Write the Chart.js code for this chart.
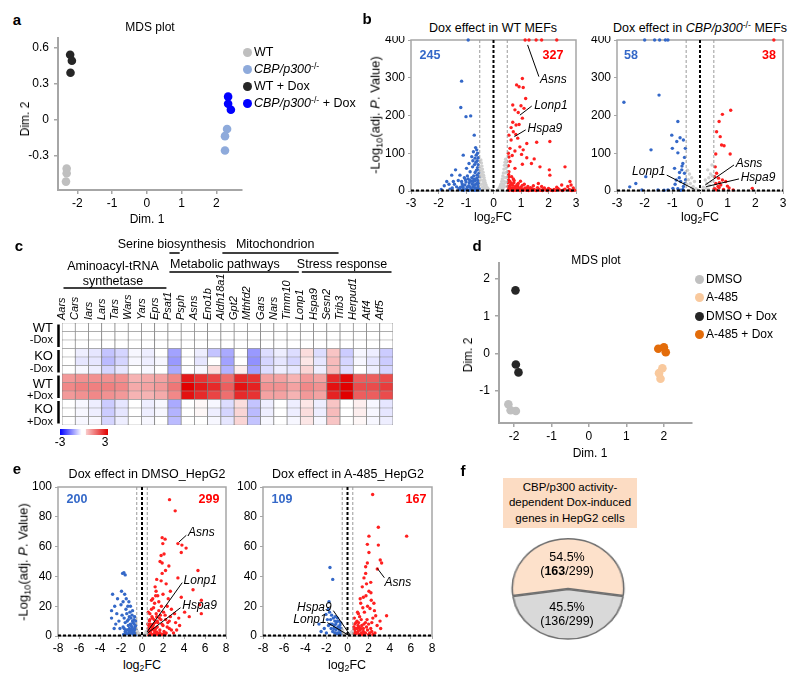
<!DOCTYPE html>
<html>
<head>
<meta charset="utf-8">
<script src="https://cdn.jsdelivr.net/npm/chart.js@4.4.1/dist/chart.umd.min.js"></script>
<style>
body { margin: 0; background: #fff; }
#page { position: relative; width: 800px; height: 682px; overflow: hidden; font-family: 'Liberation Sans', Arial, sans-serif; }
.t { position: absolute; white-space: nowrap; line-height: 1; color: #000; }
sup { font-size: 0.7em; vertical-align: 0.45em; line-height: 0; }
sub { font-size: 0.7em; vertical-align: -0.3em; line-height: 0; }
</style>
</head>
<body>
<div id="page"></div>
<script>
// ---------- data ----------

// a: MDS, MEFs  [Dim1, Dim2]
const mdsWT = [[-2.31, -0.41], [-2.31, -0.45], [-2.33, -0.52]];
const mdsKO = [[2.31, -0.08], [2.25, -0.14], [2.25, -0.26]];
const mdsWTDox = [[-2.21, 0.54], [-2.16, 0.49], [-2.2, 0.39]];
const mdsKODox = [[2.34, 0.19], [2.34, 0.13], [2.42, 0.08]];
const mdsAxTicks = [-2, -1, 0, 1, 2];
const mdsAyTicks = [-0.3, 0, 0.3, 0.6];

// b: volcano, WT MEFs  [log2FC, -log10 adj P]
const wtGrey = [[-0.46,82],[-0.44,74],[-0.42,66],[-0.4,58],[-0.38,50],[-0.36,42],[-0.34,35],[-0.32,28],[-0.3,22],[-0.27,16],[-0.24,10],[-0.2,6],[-0.16,3],[-0.12,1],[-0.45,55],[-0.43,45],[-0.41,38],[-0.39,28],[-0.37,20],[-0.34,14],[-0.3,8],[-0.47,30],[-0.44,18],[-0.4,10],[-0.35,4],[-0.28,2],[-0.48,60],[-0.46,42],
  [0.44,84],[0.42,76],[0.4,68],[0.38,58],[0.36,48],[0.34,40],[0.32,32],[0.3,25],[0.27,18],[0.24,12],[0.2,7],[0.16,3],[0.12,1],[0.45,60],[0.43,48],[0.41,36],[0.39,26],[0.36,18],[0.33,12],[0.3,6],[0.47,35],[0.44,22],[0.4,12],[0.35,5],[0.28,2],[0.48,50],[0.46,70]];
const wtBlue = [[-0.92,400],[-1.16,291],[-1.19,221],[-1.0,197],[-0.83,199],[-0.7,148],[-1.1,95],[-0.65,115],[-0.61,109],[-0.73,104],[-0.58,100],[-0.79,91],[-0.67,87],[-0.55,88],[-0.89,73],[-0.64,76],[-0.76,64],[-0.58,62],[-0.98,60],[-0.85,51],[-0.67,49],[-0.53,47],[-1.38,56],[-1.52,42],[-1.22,42],[-1.06,35],[-1.7,25],[-1.62,18],[-1.79,14],[-1.46,25],[-1.34,11],[-1.16,25],[-1.04,16],[-0.92,32],[-0.79,35],[-0.73,25],[-0.61,34],[-0.55,20],[-0.85,11],[-0.67,9],[-0.53,7],[-0.98,5],[-1.22,4],[-0.79,3],[-0.6,3],[-1.1,8],[-0.7,16],[-0.88,22],[-0.62,55],[-0.56,70],[-0.72,40],[-0.95,40],[-1.28,28],[-1.5,8],[-1.9,4],[-0.57,28],[-0.66,28],[-0.8,26],[-0.9,14],[-1.0,24],[-0.6,42],[-0.75,80],[-0.52,38],[-0.64,18],[-1.12,14],
  [-0.52,3],[-0.56,12],[-0.6,20],[-0.63,6],[-0.68,2],[-0.71,31],[-0.74,10],[-0.77,18],[-0.82,6],[-0.86,28],[-0.9,2],[-0.95,10],[-1.02,30],[-1.08,2],[-1.14,19],[-1.2,10],[-1.26,6],[-1.42,18],[-1.58,5],[-0.54,58],[-0.59,80],[-0.63,95],[-0.69,70]];
const wtRed = [[1.15,400],[1.29,400],[1.55,400],[1.75,400],[2.3,400],[1.05,298],[0.84,281],[0.93,276],[1.08,274],[1.17,245],[0.7,228],[1.0,226],[0.78,215],[1.11,219],[0.9,208],[1.05,193],[0.7,182],[0.82,175],[0.93,176],[0.64,168],[0.72,157],[0.56,148],[0.81,150],[0.64,135],[0.88,140],[1.21,126],[1.57,129],[2.05,131],[0.96,117],[0.6,113],[0.78,106],[1.08,109],[0.54,100],[0.68,94],[1.02,97],[1.21,88],[0.56,90],[1.48,85],[1.38,73],[0.6,78],[1.05,71],[0.54,67],[1.69,64],[0.78,60],[2.03,56],[2.6,64],[0.56,51],[0.66,38],[0.55,44],[2.05,42],[2.78,25],[2.82,16],[1.63,20],[2.48,16],
  [0.55,30],[0.6,25],[0.65,20],[0.7,15],[0.58,10],[0.62,5],[0.68,2],[0.75,28],[0.8,12],[0.85,6],[0.9,20],[0.95,3],[1.0,10],[1.05,15],[1.1,5],[1.15,8],[1.2,2],[1.25,12],[1.3,4],[1.4,6],[1.5,3],[1.6,9],[1.7,2],[1.8,5],[1.9,3],[2.0,7],[2.1,2],[2.2,4],[2.4,3],[2.6,5],[2.8,2],[2.9,8],[0.52,22],[0.57,38],[0.72,32],[0.66,8],[0.88,14],[0.78,4],[1.12,18],[1.35,9],[1.45,14],[0.53,12],[0.6,14],[0.74,22],[0.98,26],[2.3,10],[2.7,12],[1.75,12],
  [0.55,5],[0.57,2],[0.6,8],[0.63,18],[0.7,6],[0.72,1],[0.76,9],[0.82,2],[0.86,17],[0.92,8],[0.97,1],[1.03,5],[1.08,2],[1.18,4],[1.22,7],[1.28,1],[1.33,6],[1.38,2],[1.47,4],[1.55,1],[1.65,5],[1.78,1],[1.85,8],[1.95,1],[2.05,4],[2.15,1],[2.25,2],[2.35,6],[2.5,1],[2.55,3],[2.75,4],[2.85,1],[2.95,2]];

// b: volcano, CBP/p300-/- MEFs
const koGrey = [[0.19,29],[0.28,56],[0.43,69],[0.38,45],[0.32,35],[0.25,20],[0.12,10],[0.4,25],[0.35,15],[0.22,8],[0.45,40],[0.3,5],[-0.2,25],[-0.3,35],[-0.38,45],[-0.45,55],[-0.25,12],[-0.35,20],[-0.15,6],[-0.42,30],[-0.1,3],[-0.3,8],[-0.48,18],[0.05,2],[-0.05,1]];
const koBlue = [[-2.0,400],[-1.64,400],[-1.46,400],[-1.25,400],[-1.16,400],[-2.75,235],[-1.48,254],[-0.8,184],[-1.02,148],[-0.72,141],[-0.84,131],[-0.6,135],[-1.0,113],[-1.77,109],[-0.53,113],[-0.56,89],[-0.8,101],[-0.62,73],[-0.92,60],[-0.65,66],[-0.74,49],[-0.56,47],[-1.96,38],[-0.86,29],[-0.7,25],[-2.32,20],[-2.54,11],[-1.16,3],[-0.98,7],[-0.8,6],[-0.62,4],[-1.52,3],[-2.1,3],[-0.55,20],[-0.9,18],[-0.6,12],[-1.3,2],[-0.7,2],[-0.66,56],[-0.52,30],[-0.75,35]];
const koRed = [[2.67,400],[1.11,214],[0.81,203],[0.69,184],[0.6,157],[0.73,144],[0.78,122],[0.87,120],[0.57,98],[1.09,98],[0.55,64],[0.6,47],[0.67,34],[0.81,29],[0.93,25],[0.57,20],[0.75,16],[1.89,7],[0.99,13],[0.69,9],[0.52,7],[0.6,3],[0.85,4],[1.2,3],[0.7,22],[0.53,38],[0.65,12],[1.05,8]];
const mefXTicks = [-3, -2, -1, 0, 1, 2, 3];
const mefYTicks = [0, 100, 200, 300, 400];

// c: heatmap (log2FC z-scores), rows top to bottom
const genes = ['Aars','Cars','Iars','Lars','Tars','Wars','Yars','Eprs','Psat1','Psph','Asns','Eno1b','Aldh18a1','Gpt2','Mthfd2','Gars','Nars','Timm10','Lonp1','Hspa9','Sesn2','Trib3','Herpud1','Atf4','Atf5'];
const wtNoDox1 = [0,0,0,0,0,0,0,0,0,0,0,0,0,0,0,0,0,0,0,0,0,0,0,0,0];
const wtNoDox2 = [0,0,0,0,0,0,0,0,0,0,0,0,0,0,0,0,0,0,0,0,0,0,0,0,0];
const wtNoDox3 = [0,0,0,0,0,0,0,0,0,0,0,0,0,0,0,0,0,0,0,0,0,0,0,0,0];
const koNoDox1 = [0,-0.2,-0.3,-0.7,-0.5,-0.1,-0.2,0,-1.1,0,-0.2,-0.7,-1.0,0,-1.2,-0.4,-0.2,-0.4,0.4,-0.4,0.7,-0.6,-0.1,-0.2,-0.6];
const koNoDox2 = [0,-0.3,-0.3,-0.8,-0.5,-0.1,-0.2,-0.1,-1.2,0,-0.3,0,-1.1,0,-1.3,-0.5,-0.3,-0.5,0.3,-0.3,0.8,-0.5,-0.1,-0.3,-0.6];
const koNoDox3 = [0,-0.1,-0.2,-0.5,-0.3,0,-0.1,0,-1.0,0,-0.1,0.4,-0.9,0.2,-1.1,-0.4,-0.2,-0.3,0.5,-0.2,0.8,-0.4,0,-0.2,-0.5];
const wtDox1 = [1.2,1.3,1.3,1.3,1.3,0.9,1.0,1.1,1.4,2.7,2.4,2.2,1.7,2.5,2.4,1.1,1.1,0.9,1.2,1.1,2.5,2.9,1.9,1.9,2.1];
const wtDox2 = [1.4,1.5,1.5,1.5,1.4,1.0,1.1,1.2,1.6,3.0,2.7,2.5,1.9,2.8,2.6,1.3,1.3,1.1,1.4,1.3,2.8,3.2,2.1,2.1,2.3];
const wtDox3 = [1.2,1.3,1.4,1.3,1.2,0.9,0.9,1.0,1.4,2.8,2.5,2.2,1.7,2.5,2.4,1.1,1.1,0.9,1.2,1.1,2.6,3.0,1.9,1.9,2.1];
const koDox1 = [0,-0.1,-0.2,-0.6,-0.3,0,-0.2,-0.1,-1.0,0,0.1,-0.1,-0.4,0.4,-0.7,-0.2,0,-0.2,0.3,-0.2,0.7,0,0.2,-0.1,-0.3];
const koDox2 = [0,-0.1,-0.2,-0.6,-0.3,0,-0.2,-0.1,-0.9,0,0.1,-0.2,-0.5,0.5,-0.8,-0.2,0,-0.2,0.4,-0.2,0.8,0,0.2,-0.1,-0.3];
const koDox3 = [0,-0.1,-0.1,-0.5,-0.2,0,-0.1,0,-0.8,0,0,-0.1,-0.3,0.5,-0.7,-0.1,0,-0.1,0.3,-0.1,0.7,0,0.1,-0.1,-0.2];
const heatRows = [wtNoDox1, wtNoDox2, wtNoDox3, koNoDox1, koNoDox2, koNoDox3, wtDox1, wtDox2, wtDox3, koDox1, koDox2, koDox3];

// d: MDS, HepG2
const mdsDMSO = [[-2.15, -1.35], [-2.09, -1.51], [-1.95, -1.53]];
const mdsA485 = [[1.96, -0.39], [1.87, -0.52], [1.91, -0.67]];
const mdsDMSODox = [[-1.96, 1.69], [-1.95, -0.29], [-1.88, -0.5]];
const mdsA485Dox = [[1.85, 0.13], [2.0, 0.17], [2.05, 0.04]];
const mdsDyTicks = [-1, 0, 1, 2];

// e: volcano, DMSO HepG2
const dmsoGrey = [[-0.4,2],[-0.3,1],[-0.2,0.5],[0.2,0.6],[0.3,1.2],[0.45,2],[-0.45,3],[0.4,3],[-0.1,0.3],[0.1,0.3],[-0.35,1.8],[0.35,1.5]];
const dmsoBlue = [[-1.85,42],[-1.6,41],[-1.72,42.5],[-2.8,28],[-2.9,17],[-2.9,12],[-2.65,5],[-2.33,25],[-2.0,21],[-1.8,23],[-1.53,18],[-1.45,15],[-1.21,13],[-1.05,12],[-1.9,14],[-1.7,12],[-1.6,9],[-1.4,10],[-1.3,7],[-1.2,5],[-1.1,8],[-0.95,6],[-0.9,3],[-0.8,4],[-0.7,2],[-0.6,3],[-1.0,2],[-1.5,4],[-1.8,6],[-2.2,10],[-2.4,15],[-1.35,20],[-1.65,28],[-1.95,30],[-0.85,9],[-0.65,6],[-0.55,1],[-1.15,16],[-2.1,5],[-1.25,2],[-0.75,11],[-1.55,2],[-2.5,8],[-0.95,14],[-1.1,3],
  [-0.55,4],[-0.6,7],[-0.65,1.5],[-0.7,5],[-0.75,8],[-0.8,1],[-0.85,3],[-0.9,10],[-1.0,4.5],[-1.05,7],[-1.15,1.5],[-1.2,3],[-1.3,11],[-1.35,4],[-1.45,1.5],[-1.6,3],[-1.7,5],[-1.75,1],[-0.6,10],[-0.7,13],[-0.9,17],[-1.1,20],[-1.25,23],[-1.5,25],[-2.6,20]];
const dmsoRed = [[2.62,91.5],[3.16,84],[1.92,66],[2.2,65],[1.98,62],[3.42,62],[3.8,61],[4.2,59],[3.74,56],[1.82,54],[1.72,50],[1.92,49],[2.56,47],[2.24,44],[5.33,44],[1.92,42],[3.42,39],[1.82,37],[4.86,31],[1.34,30],[5.65,24],[5.5,21],[3.74,26],[5.65,15],[4.06,16],[3.58,7],[1.02,25],[1.5,27],[2.0,28],[1.2,22],[2.4,20],[2.8,18],[3.1,15],[0.9,18],[1.6,17],[2.2,14],[1.0,12],[1.4,13],[1.8,11],[2.6,10],[3.2,9],[0.7,10],[1.1,8],[1.5,9],[2.0,7],[2.4,6],[0.6,5],[0.9,4],[1.3,5],[1.7,4],[2.1,3],[2.8,4],[0.55,2],[0.8,1.5],[1.2,2],[1.6,1.5],[2.3,2],[3.0,2],[1.0,6],[1.9,8],[0.75,15],[1.25,33],[2.3,35],[1.6,23],[2.5,25],[1.4,38],[2.1,55],[3.5,12],[4.5,13],[1.85,20],[0.65,7],[1.15,11],[0.8,8],[1.45,6],[2.6,5],[3.3,4],
  [0.6,1],[0.7,3],[0.8,2.5],[0.9,1.2],[1.0,4.5],[1.1,1],[1.2,3.5],[1.3,1.2],[1.4,2.8],[1.5,1],[1.7,2.2],[1.8,1],[2.0,1.2],[2.2,1],[0.65,4],[0.85,6],[1.05,7],[1.25,9],[1.45,10],[1.65,12],[0.55,8],[0.75,11],[0.95,13],[1.35,15],[1.75,14],[2.05,16],[2.25,11],[2.45,9],[2.7,13],[0.6,16],[0.9,24],[1.1,19],[1.3,27],[2.7,30]];

// e: volcano, A-485 HepG2
const a485Grey = [[-0.4,2],[-0.3,1.5],[-0.2,1],[0.2,1],[0.3,2],[0.45,3],[-0.45,4],[0.4,1],[-0.1,0.5],[0.1,0.4]];
const a485Blue = [[-1.66,46],[-1.4,38],[-1.75,23],[-2.7,8],[-2.04,14.5],[-1.34,12],[-1.03,9.6],[-0.71,7.4],[-1.8,18],[-1.5,14],[-1.2,10],[-0.9,6],[-0.6,3],[-1.6,8],[-2.2,5],[-1.9,11],[-1.1,4],[-0.8,2],[-1.4,3],[-2.5,3],[-1.7,16],[-1.25,7],[-0.95,12],[-0.75,4],[-1.55,5],[-2.0,2],[-1.0,1.5],[-0.55,1.5],
  [-0.6,5],[-0.7,1],[-0.8,6],[-0.9,2],[-1.0,5],[-1.1,8],[-1.2,2],[-1.3,5],[-1.45,8],[-1.6,11],[-1.8,7],[-0.65,9],[-0.85,10],[-1.15,13]];
const a485Red = [[2.38,95],[2.92,73],[5.6,67],[2.03,67],[1.88,61.5],[2.92,61],[2.03,56],[3.23,49],[3.1,51],[1.88,49],[1.72,46.5],[2.82,45],[1.72,42],[1.56,39],[2.03,30],[2.22,29],[1.5,26],[1.25,22],[2.13,18.5],[2.67,13.6],[3.7,13.6],[3.08,10],[3.14,5],[1.03,15],[1.8,35],[2.2,36],[1.4,33],[1.2,25],[2.5,22],[1.9,20],[1.6,16],[2.4,12],[0.9,10],[1.3,11],[1.7,9],[2.0,8],[2.8,7],[0.6,6],[0.8,5],[1.1,6],[1.5,5],[1.9,4],[2.3,3],[0.55,2],[0.75,1.5],[1.0,3],[1.3,2],[1.6,1.5],[2.1,2],[2.6,2],[0.7,8],[1.15,13],[1.45,19],[1.05,9],[1.75,27],[2.55,17],[0.65,12],[0.95,16],[1.35,7],[2.25,24],
  [0.6,1],[0.7,3],[0.85,2],[0.95,5],[1.1,1],[1.2,4],[1.4,1],[1.5,3],[1.7,2],[1.8,6],[2.0,1],[2.2,5],[2.4,1],[0.65,4.5],[0.8,9],[1.0,7],[1.25,5],[1.55,8],[1.85,11],[2.3,9]];
const hepXTicks = [-8, -6, -4, -2, 0, 2, 4, 6, 8];
const hepYTicks = [0, 20, 40, 60, 80, 100];

// f: pie
const pieCounts = [163, 136];
const pieColors = ['#fde1cb', '#d9d9d9'];

// ---------- helpers ----------
const FONT = "'Liberation Sans', Arial, sans-serif";
const GREY = '#a6a6a6';
const BLUE = '#3468c8';
const RED = '#ff2020';
const LIGHT = '#d0d0d0';
Chart.defaults.font.family = FONT;
Chart.defaults.font.size = 12;
Chart.defaults.color = '#000';
Chart.defaults.animation = false;

const page = document.getElementById('page');

function label(html, x, y, css) {
  const d = document.createElement('div');
  d.className = 't';
  d.innerHTML = html;
  d.style.left = x + 'px';
  d.style.top = y + 'px';
  d.style.fontSize = '12px';
  d.style.transform = 'translate(-50%,-50%)';
  d.style.cssText += css || '';
  page.appendChild(d);
  return d;
}
const leftAt = 'transform:translate(0,-50%);';
const rightAt = 'transform:translate(-100%,-50%);';
const rotated = 'transform:translate(-50%,-50%) rotate(-90deg);';

function dot(x, y, color) {
  const d = document.createElement('div');
  d.style.cssText = `position:absolute;left:${x - 4.5}px;top:${y - 4.5}px;width:9px;height:9px;border-radius:50%;background:${color}`;
  page.appendChild(d);
}

// box = canvas [left, top, w, h], area = chart area [x0, y0, x1, y1], all in page px
function makeChart(box, area, config, topAxis) {
  const [left, top, w, h] = box;
  const [x0, y0, x1, y1] = area;
  const cv = document.createElement('canvas');
  cv.width = w; cv.height = h;
  cv.style.cssText = `position:absolute;left:${left}px;top:${top}px;`;
  page.appendChild(cv);
  const o = config.options;
  o.responsive = false;
  o.animation = false;
  o.events = [];
  o.plugins = Object.assign({legend: {display: false}, tooltip: {enabled: false}}, o.plugins || {});
  if (topAxis) {
    o.layout = {padding: {left: x0 - left, top: 0, right: left + w - x1, bottom: top + h - y1}};
    o.scales.x.afterFit = s => { s.height = y0 - top; s.paddingLeft = 0; s.paddingRight = 0; };
  } else {
    o.layout = {padding: {left: 0, top: y0 - top, right: left + w - x1, bottom: 0}};
    o.scales.x.afterFit = s => { s.height = top + h - y1; s.paddingLeft = 0; s.paddingRight = 0; };
    o.scales.y.afterFit = s => { s.width = x0 - left; s.paddingTop = 0; s.paddingBottom = 0; };
  }
  return new Chart(cv, config);
}

function axisLinear(min, max, ticks, o) {
  return {
    type: 'linear', min, max,
    afterBuildTicks: s => { s.ticks = ticks.map(v => ({value: v})); },
    grid: {drawOnChartArea: false, drawTicks: true, tickLength: o.tl, color: GREY, lineWidth: o.gw},
    border: {display: o.border, color: GREY, width: o.bw},
    ticks: {padding: o.pad, color: '#000', font: {size: 12}, maxRotation: 0, autoSkip: false}
  };
}

const framePlugin = {
  id: 'frame',
  beforeDatasetsDraw(chart) {
    const {ctx, chartArea: a} = chart;
    ctx.save();
    ctx.strokeStyle = GREY;
    ctx.lineWidth = 1.5;
    ctx.strokeRect(a.left, a.top, a.right - a.left, a.bottom - a.top);
    ctx.restore();
  }
};

function refsPlugin(cut, yLine) {
  return {
    id: 'refs',
    afterDatasetsDraw(chart) {
      const {ctx, chartArea: a, scales: {x, y}} = chart;
      ctx.save();
      const vline = (v, color, lw) => {
        const px = x.getPixelForValue(v);
        ctx.strokeStyle = color; ctx.lineWidth = lw;
        ctx.beginPath(); ctx.moveTo(px, a.top); ctx.lineTo(px, a.bottom); ctx.stroke();
      };
      ctx.setLineDash([3, 2]);
      vline(-cut, '#9a9a9a', 1);
      vline(cut, '#9a9a9a', 1);
      vline(0, '#000', 2);
      const py = y.getPixelForValue(yLine);
      ctx.beginPath(); ctx.moveTo(a.left, py); ctx.lineTo(a.right, py); ctx.stroke();
      ctx.restore();
    }
  };
}

// [text, lineFromX, lineFromY, lineToX, lineToY, textX, textY, align]
function annotPlugin(items) {
  return {
    id: 'annot',
    afterDatasetsDraw(chart) {
      const {ctx, scales: {x, y}} = chart;
      ctx.save();
      ctx.strokeStyle = '#000'; ctx.fillStyle = '#000'; ctx.lineWidth = 1;
      ctx.font = `italic 12px ${FONT}`;
      ctx.textBaseline = 'middle';
      items.forEach(([t, ax, ay, bx, by, tx, ty, al]) => {
        ctx.beginPath();
        ctx.moveTo(x.getPixelForValue(ax), y.getPixelForValue(ay));
        ctx.lineTo(x.getPixelForValue(bx), y.getPixelForValue(by));
        ctx.stroke();
        ctx.textAlign = al;
        ctx.fillText(t, x.getPixelForValue(tx), y.getPixelForValue(ty));
      });
      ctx.restore();
    }
  };
}

function volcano(box, area, xr, xt, yMax, yt, grey, blue, red, notes) {
  const sets = [[grey, LIGHT], [blue, BLUE], [red, RED]];
  return makeChart(box, area, {
    type: 'scatter',
    data: {datasets: sets.map(([d, c]) => ({data: d, backgroundColor: c, pointRadius: 1.7, borderWidth: 0, clip: false}))},
    options: {
      scales: {
        x: axisLinear(xr[0], xr[1], xt, {tl: 3, gw: 1, border: false, bw: 1.5, pad: 2}),
        y: axisLinear(0, yMax, yt, {tl: 3, gw: 1, border: false, bw: 1.5, pad: 3})
      }
    },
    plugins: [framePlugin, refsPlugin(0.5, yMax * 0.004), annotPlugin(notes)]
  });
}

function mds(box, area, xr, yr, yt, sets) {
  return makeChart(box, area, {
    type: 'scatter',
    data: {datasets: sets.map(([d, c]) => ({data: d, backgroundColor: c, pointRadius: 4.3, borderWidth: 0, clip: false}))},
    options: {
      scales: {
        x: axisLinear(xr[0], xr[1], mdsAxTicks, {tl: 4, gw: 1.5, border: true, bw: 2, pad: 2}),
        y: axisLinear(yr[0], yr[1], yt, {tl: 4, gw: 1.5, border: true, bw: 2, pad: 5})
      }
    }
  });
}

// ---------- a ----------
mds([0, 32, 250, 180], [58, 38, 242, 190], [-2.56, 2.74], [-0.59, 0.68], mdsAyTicks,
  [[mdsWT, '#bfbfbf'], [mdsKO, '#8eaadb'], [mdsWTDox, '#262626'], [mdsKODox, '#0000ff']]);
label('a', 17, 19, 'font-weight:bold;font-size:15px;');
label('MDS plot', 150, 27);
label('Dim. 2', 25, 119, rotated);
label('Dim. 1', 147, 219);
[['WT', '#bfbfbf', 52], ['<i>CBP/p300</i><sup>-/-</sup>', '#8eaadb', 69], ['WT + Dox', '#262626', 86], ['<i>CBP/p300</i><sup>-/-</sup> + Dox', '#0000ff', 103]]
  .forEach(([t, c, y]) => { dot(247, y, c); label(t, 254, y, leftAt + 'font-size:12.5px;'); });

// ---------- b ----------
volcano([380, 36, 205, 175], [411, 40, 576, 191], [-3, 3], mefXTicks, 400, mefYTicks, wtGrey, wtBlue, wtRed, [
  ['Asns', 1.24, 387, 1.65, 303, 1.69, 294, 'left'],
  ['Lonp1', 0.96, 201, 1.39, 225, 1.48, 225, 'left'],
  ['Hspa9', 0.76, 144, 1.17, 162, 1.24, 166, 'left']
]);
volcano([586, 36, 204, 175], [617, 40, 783, 191], [-3, 3], mefXTicks, 400, mefYTicks, koGrey, koBlue, koRed, [
  ['Lonp1', -1.2, 42, -0.2, 4.4, -1.25, 51, 'right'],
  ['Asns', 1.23, 69, 0.19, 16, 1.29, 73, 'left'],
  ['Hspa9', 1.41, 32, 0.22, 11.5, 1.47, 36, 'left']
]);
label('b', 367, 18, 'font-weight:bold;font-size:15px;');
label('Dox effect in WT MEFs', 493, 28, 'font-size:12.5px;');
label('Dox effect in <i>CBP/p300</i><sup>-/-</sup> MEFs', 700, 28, 'font-size:12.5px;');
label('245', 430, 55, `font-weight:bold;font-size:12.5px;color:${BLUE};`);
label('327', 553, 55, 'font-weight:bold;font-size:12.5px;color:#ff0000;');
label('58', 631, 55, `font-weight:bold;font-size:12.5px;color:${BLUE};`);
label('38', 769, 55, 'font-weight:bold;font-size:12.5px;color:#ff0000;');
label('-Log<sub>10</sub>(adj. <i>P</i>. Value)', 375, 115, rotated + 'font-size:13px;');
label('log<sub>2</sub>FC', 493, 217, 'font-size:12.5px;');
label('log<sub>2</sub>FC', 700, 217, 'font-size:12.5px;');

// ---------- c ----------
function heatColor(v) {
  const t = Math.min(Math.abs(v) / 3, 1);
  const c = Math.round(255 * (1 - t));
  return v >= 0 ? `rgb(${Math.round(255 - 30 * t)},${c},${c})` : `rgb(${c},${c},255)`;
}
const heatTop = 232;
const heatHeaders = [
  [['Serine biosynthesis'], 7.8, 245, 8, 8, 253],
  [['Mitochondrion'], 15.6, 245, 12, 20, 253],
  [['Metabolic pathways'], 11.8, 265, 8, 17, 272],
  [['Stress response'], 20.65, 265, 18, 24, 272],
  [['Aminoacyl-tRNA', 'synthetase'], 3.35, 267, 0, 7, 288]
];
const heatPlugin = {
  id: 'heatExtras',
  afterDraw(chart) {
    const {ctx, chartArea: a, scales: {x, y}} = chart;
    ctx.save();
    ctx.fillStyle = '#000'; ctx.strokeStyle = '#000';
    ctx.font = `12.5px ${FONT}`; ctx.textAlign = 'center'; ctx.textBaseline = 'middle';
    heatHeaders.forEach(([lines, tc, ty, c0, c1, ly]) => {
      lines.forEach((s, i) => ctx.fillText(s, x.getPixelForValue(tc), ty - heatTop + i * 15));
      ctx.lineWidth = 1.5;
      ctx.beginPath();
      ctx.moveTo(x.getPixelForValue(c0 - 0.5) + 1.5, ly - heatTop);
      ctx.lineTo(x.getPixelForValue(c1 + 0.5) - 1.5, ly - heatTop);
      ctx.stroke();
    });
    // group bars
    ctx.lineWidth = 2.5;
    for (let g = 0; g < 4; g++) {
      ctx.beginPath();
      ctx.moveTo(a.left - 3.5, y.getPixelForValue(12 - 3 * g) + 1.5);
      ctx.lineTo(a.left - 3.5, y.getPixelForValue(9 - 3 * g) - 1.5);
      ctx.stroke();
    }
    // colour bar
    const gx = a.left - 2, gy = a.bottom + 4, gw = 48;
    const grad = ctx.createLinearGradient(gx, 0, gx + gw, 0);
    grad.addColorStop(0, heatColor(-3));
    grad.addColorStop(0.45, '#ffffff');
    grad.addColorStop(0.53, '#ffffff');
    grad.addColorStop(0.54, heatColor(0.6));
    grad.addColorStop(1, heatColor(3));
    ctx.fillStyle = grad;
    ctx.fillRect(gx, gy, gw, 6);
    ctx.fillStyle = '#000';
    ctx.font = `12px ${FONT}`;
    ctx.fillText('-3', gx, gy + 14);
    ctx.fillText('3', gx + gw - 3, gy + 14);
    ctx.restore();
  }
};
makeChart([0, heatTop, 400, 218], [62, 323, 393, 425], {
  type: 'bar',
  data: {
    labels: genes,
    datasets: heatRows.slice().reverse().map(row => ({
      data: genes.map(() => 1),
      backgroundColor: row.map(heatColor),
      borderColor: '#7c7c7c',
      borderWidth: {top: 0.5, bottom: 0.5, left: 0.7, right: 0.7},
      borderSkipped: false,
      barPercentage: 1,
      categoryPercentage: 1
    }))
  },
  options: {
    scales: {
      x: {
        type: 'category', position: 'top', stacked: true, offset: true,
        grid: {display: false, drawTicks: false}, border: {display: false},
        ticks: {minRotation: 90, maxRotation: 90, autoSkip: false, padding: 3, labelOffset: 6.6, font: {size: 11, style: 'italic'}}
      },
      y: {stacked: true, min: 0, max: heatRows.length, display: false}
    }
  },
  plugins: [heatPlugin]
}, true);
label('c', 19, 245, 'font-weight:bold;font-size:15px;');
[['WT', 327, 13], ['-Dox', 339, 11], ['KO', 355, 13], ['-Dox', 368, 11], ['WT', 383, 13], ['+Dox', 395, 11], ['KO', 408, 13], ['+Dox', 421, 11]]
  .forEach(([t, y, s]) => label(t, 53, y, rightAt + `font-size:${s}px;`));

// ---------- d ----------
mds([470, 258, 230, 185], [499, 263, 692, 423], [-2.4, 2.75], [-1.85, 2.42], mdsDyTicks,
  [[mdsDMSO, '#c0c0c0'], [mdsA485, '#f9c99d'], [mdsDMSODox, '#262626'], [mdsA485Dox, '#e36c0a']]);
label('d', 477, 245, 'font-weight:bold;font-size:15px;');
label('MDS plot', 596, 260);
label('Dim. 2', 468, 355, rotated);
label('Dim. 1', 590, 453);
[['DMSO', '#c0c0c0', 279], ['A-485', '#f9c99d', 297], ['DMSO + Dox', '#262626', 316], ['A-485 + Dox', '#e36c0a', 334]]
  .forEach(([t, c, y]) => { dot(699, y, c); label(t, 706, y, leftAt + 'font-size:12px;'); });

// ---------- e ----------
volcano([20, 480, 215, 175], [58, 487, 226, 636], [-8, 8], hepXTicks, 100, hepYTicks, dmsoGrey, dmsoBlue, dmsoRed, [
  ['Asns', 4.22, 67.6, 3.51, 63, 4.38, 69.4, 'left'],
  ['Lonp1', 3.83, 35.8, 0.48, 2.7, 3.96, 37.4, 'left'],
  ['Hspa9', 3.67, 19, 0.54, 2, 3.83, 20.1, 'left']
]);
volcano([232, 480, 206, 175], [263, 487, 432, 636], [-8, 8], hepXTicks, 100, hepYTicks, a485Grey, a485Blue, a485Red, [
  ['Asns', 2.82, 45.4, 3.49, 39.1, 3.5, 36, 'left'],
  ['Hspa9', -1.34, 17, 0.24, 0.7, -1.5, 19, 'right'],
  ['Lonp1', -1.91, 9, 0.17, 0.2, -1.97, 10.7, 'right']
]);
label('e', 17, 468, 'font-weight:bold;font-size:15px;');
label('Dox effect in DMSO_HepG2', 147, 474, 'font-size:12.5px;');
label('Dox effect in A-485_HepG2', 348, 474, 'font-size:12.5px;');
label('200', 77, 499, `font-weight:bold;font-size:12.5px;color:${BLUE};`);
label('299', 209, 499, 'font-weight:bold;font-size:12.5px;color:#ff0000;');
label('109', 282, 499, `font-weight:bold;font-size:12.5px;color:${BLUE};`);
label('167', 416, 499, 'font-weight:bold;font-size:12.5px;color:#ff0000;');
label('-Log<sub>10</sub>(adj. <i>P</i>. Value)', 23, 562, rotated + 'font-size:13px;');
label('log<sub>2</sub>FC', 142, 665, 'font-size:12.5px;');
label('log<sub>2</sub>FC', 347, 665, 'font-size:12.5px;');

// ---------- f ----------
label('f', 463, 470, 'font-weight:bold;font-size:15px;');
const fbox = document.createElement('div');
fbox.style.cssText = `position:absolute;left:503px;top:478px;width:134px;height:50px;background:#fcdcc3;display:flex;align-items:center;justify-content:center;text-align:center;font-size:11.5px;line-height:15.5px;`;
fbox.innerHTML = 'CBP/p300 activity-<br>dependent Dox-induced<br>genes in HepG2 cells';
page.appendChild(fbox);

const pieWrap = document.createElement('div');
pieWrap.style.cssText = 'position:absolute;left:516px;top:537px;width:104px;height:104px;transform:scaleX(1.12);';
page.appendChild(pieWrap);
const pieCv = document.createElement('canvas');
pieCv.width = 104; pieCv.height = 104;
pieWrap.appendChild(pieCv);
const pieTotal = pieCounts[0] + pieCounts[1];
new Chart(pieCv, {
  type: 'pie',
  data: {labels: ['dependent', 'independent'], datasets: [{data: pieCounts, backgroundColor: pieColors, borderColor: '#707070', borderWidth: 1.5, offset: 2}]},
  options: {
    responsive: false, animation: false, events: [],
    rotation: -pieCounts[0] / pieTotal * 180,
    layout: {padding: 1},
    plugins: {legend: {display: false}, tooltip: {enabled: false}}
  }
});
const pct = v => (v / pieTotal * 100).toFixed(1) + '%';
label(pct(pieCounts[0]), 567, 557, 'font-size:12.5px;');
label(`(<b>${pieCounts[0]}</b>/${pieTotal})`, 567, 571, 'font-size:12.5px;');
label(pct(pieCounts[1]), 567, 607, 'font-size:12.5px;');
label(`(${pieCounts[1]}/${pieTotal})`, 567, 621, 'font-size:12.5px;');
</script>
</body>
</html>
